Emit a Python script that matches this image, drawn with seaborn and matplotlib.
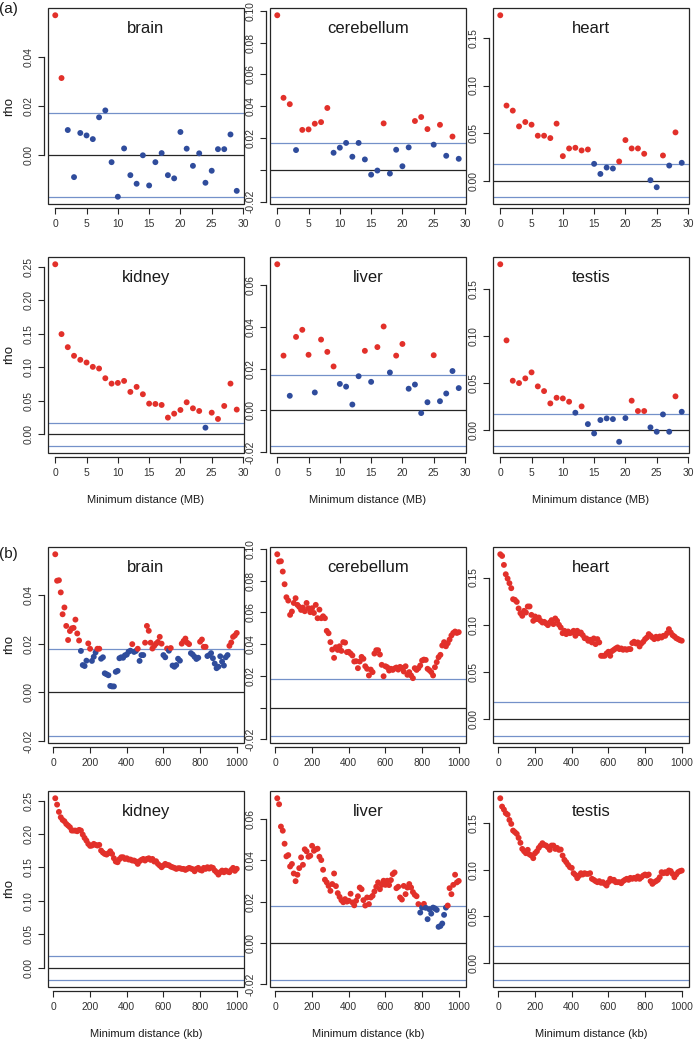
import matplotlib

matplotlib.use("Agg")

import matplotlib.pyplot as plt
import numpy as np
import pandas as pd
import seaborn as sns
from matplotlib.patches import Rectangle
from matplotlib.ticker import FuncFormatter, MultipleLocator


sns.set_theme(style="white")
plt.rcParams["font.family"] = ["Liberation Sans", "DejaVu Sans"]

TISSUES = ["brain", "cerebellum", "heart", "kidney", "liver", "testis"]

# (a) minimum distance between gene pairs, in MB
DIST_MB = list(range(30))
RHO_MB_BRAIN = [0.0570, 0.0314, 0.0102, -0.0090, 0.0090, 0.0080, 0.0065, 0.0154, 0.0182, -0.0029,
                -0.0170, 0.0027, -0.0082, -0.0117, -0.0001, -0.0124, -0.0029, 0.0008, -0.0082, -0.0095,
                0.0094, 0.0026, -0.0044, 0.0007, -0.0113, -0.0064, 0.0024, 0.0024, 0.0084, -0.0146]
RHO_MB_CEREBELLUM = [0.0973, 0.0453, 0.0413, 0.0124, 0.0251, 0.0254, 0.0290, 0.0300, 0.0389, 0.0107,
                     0.0139, 0.0169, 0.0082, 0.0169, 0.0065, -0.0031, -0.0005, 0.0292, -0.0024, 0.0126,
                     0.0022, 0.0141, 0.0307, 0.0332, 0.0256, 0.0158, 0.0283, 0.0088, 0.0209, 0.0069]
RHO_MB_HEART = [0.1739, 0.0789, 0.0736, 0.0570, 0.0616, 0.0588, 0.0472, 0.0472, 0.0447, 0.0599,
                0.0257, 0.0338, 0.0345, 0.0317, 0.0327, 0.0176, 0.0070, 0.0137, 0.0127, 0.0201,
                0.0426, 0.0338, 0.0338, 0.0282, 0.0004, -0.0070, 0.0264, 0.0158, 0.0507, 0.0187]
RHO_MB_KIDNEY = [0.2540, 0.1497, 0.1302, 0.1173, 0.1113, 0.1073, 0.1008, 0.0983, 0.0838, 0.0758,
                 0.0768, 0.0798, 0.0634, 0.0709, 0.0599, 0.0459, 0.0454, 0.0439, 0.0250, 0.0309,
                 0.0364, 0.0479, 0.0389, 0.0349, 0.0100, 0.0324, 0.0230, 0.0424, 0.0758, 0.0370]
RHO_MB_LIVER = [0.0702, 0.0263, 0.0070, 0.0353, 0.0387, 0.0267, 0.0086, 0.0340, 0.0281, 0.0211,
                0.0127, 0.0114, 0.0028, 0.0164, 0.0286, 0.0137, 0.0304, 0.0403, 0.0182, 0.0263,
                0.0319, 0.0104, 0.0124, -0.0013, 0.0039, 0.0265, 0.0044, 0.0081, 0.0189, 0.0107]
RHO_MB_TESTIS = [0.1759, 0.0950, 0.0521, 0.0496, 0.0546, 0.0610, 0.0461, 0.0411, 0.0280, 0.0340,
                 0.0333, 0.0298, 0.0181, 0.0248, 0.0060, -0.0039, 0.0103, 0.0121, 0.0113, -0.0128,
                 0.0124, 0.0309, 0.0199, 0.0199, 0.0025, -0.0021, 0.0163, -0.0021, 0.0355, 0.0191]

# (b) minimum distance between gene pairs, in kb
DIST_KB = list(range(10, 1001, 10))
RHO_KB_BRAIN = [0.0569, 0.0460, 0.0462, 0.0412, 0.0322, 0.0350, 0.0274, 0.0216, 0.0253, 0.0264,
                0.0266, 0.0300, 0.0243, 0.0214, 0.0171, 0.0113, 0.0109, 0.0131, 0.0202, 0.0180,
                0.0130, 0.0147, 0.0165, 0.0180, 0.0180, 0.0139, 0.0145, 0.0079, 0.0075, 0.0071,
                0.0027, 0.0025, 0.0025, 0.0085, 0.0089, 0.0141, 0.0145, 0.0143, 0.0153, 0.0156,
                0.0168, 0.0172, 0.0199, 0.0167, 0.0171, 0.0180, 0.0130, 0.0154, 0.0154, 0.0205,
                0.0274, 0.0254, 0.0205, 0.0181, 0.0192, 0.0201, 0.0208, 0.0229, 0.0201, 0.0154,
                0.0145, 0.0181, 0.0172, 0.0183, 0.0111, 0.0106, 0.0113, 0.0139, 0.0131, 0.0201,
                0.0212, 0.0222, 0.0205, 0.0199, 0.0162, 0.0156, 0.0147, 0.0138, 0.0143, 0.0209,
                0.0218, 0.0188, 0.0188, 0.0150, 0.0154, 0.0162, 0.0141, 0.0119, 0.0100, 0.0106,
                0.0149, 0.0127, 0.0111, 0.0145, 0.0154, 0.0192, 0.0206, 0.0229, 0.0235, 0.0245]
RHO_KB_CEREBELLUM = [0.0966, 0.0920, 0.0922, 0.0857, 0.0777, 0.0695, 0.0674, 0.0584, 0.0605, 0.0659,
                     0.0689, 0.0647, 0.0634, 0.0615, 0.0630, 0.0607, 0.0659, 0.0626, 0.0601, 0.0626,
                     0.0596, 0.0647, 0.0563, 0.0617, 0.0563, 0.0575, 0.0563, 0.0483, 0.0468, 0.0412,
                     0.0365, 0.0313, 0.0380, 0.0363, 0.0386, 0.0357, 0.0412, 0.0409, 0.0349, 0.0351,
                     0.0340, 0.0328, 0.0290, 0.0292, 0.0248, 0.0290, 0.0319, 0.0307, 0.0260, 0.0244,
                     0.0202, 0.0239, 0.0223, 0.0340, 0.0361, 0.0361, 0.0334, 0.0269, 0.0197, 0.0260,
                     0.0254, 0.0233, 0.0244, 0.0237, 0.0246, 0.0252, 0.0239, 0.0256, 0.0250, 0.0227,
                     0.0260, 0.0206, 0.0223, 0.0202, 0.0185, 0.0248, 0.0237, 0.0248, 0.0265, 0.0296,
                     0.0302, 0.0300, 0.0244, 0.0235, 0.0223, 0.0202, 0.0254, 0.0286, 0.0317, 0.0332,
                     0.0391, 0.0412, 0.0386, 0.0405, 0.0428, 0.0454, 0.0470, 0.0479, 0.0470, 0.0475]
RHO_KB_HEART = [0.1747, 0.1729, 0.1634, 0.1535, 0.1489, 0.1440, 0.1387, 0.1270, 0.1263, 0.1242,
                0.1172, 0.1122, 0.1094, 0.1147, 0.1129, 0.1193, 0.1193, 0.1104, 0.1041, 0.1087,
                0.1059, 0.1076, 0.1041, 0.1023, 0.1030, 0.1013, 0.0995, 0.1023, 0.1048, 0.1006,
                0.1066, 0.1041, 0.0999, 0.0970, 0.0910, 0.0935, 0.0900, 0.0928, 0.0910, 0.0917,
                0.0935, 0.0882, 0.0935, 0.0910, 0.0917, 0.0889, 0.0857, 0.0854, 0.0829, 0.0840,
                0.0812, 0.0854, 0.0794, 0.0847, 0.0812, 0.0670, 0.0670, 0.0670, 0.0695, 0.0713,
                0.0670, 0.0720, 0.0734, 0.0748, 0.0759, 0.0741, 0.0748, 0.0734, 0.0741, 0.0734,
                0.0741, 0.0741, 0.0805, 0.0819, 0.0801, 0.0812, 0.0769, 0.0801, 0.0819, 0.0847,
                0.0864, 0.0900, 0.0882, 0.0864, 0.0847, 0.0872, 0.0854, 0.0875, 0.0864, 0.0882,
                0.0882, 0.0910, 0.0953, 0.0917, 0.0889, 0.0875, 0.0857, 0.0847, 0.0836, 0.0830]
RHO_KB_KIDNEY = [0.2535, 0.2440, 0.2331, 0.2251, 0.2211, 0.2191, 0.2151, 0.2127, 0.2102, 0.2052,
                 0.2052, 0.2052, 0.2042, 0.2062, 0.2052, 0.1992, 0.1942, 0.1902, 0.1853, 0.1823,
                 0.1828, 0.1853, 0.1838, 0.1828, 0.1838, 0.1753, 0.1723, 0.1703, 0.1693, 0.1713,
                 0.1743, 0.1703, 0.1638, 0.1589, 0.1579, 0.1624, 0.1653, 0.1653, 0.1628, 0.1638,
                 0.1619, 0.1619, 0.1604, 0.1604, 0.1589, 0.1554, 0.1594, 0.1614, 0.1628, 0.1604,
                 0.1628, 0.1638, 0.1614, 0.1628, 0.1589, 0.1594, 0.1554, 0.1529, 0.1504, 0.1529,
                 0.1554, 0.1539, 0.1534, 0.1514, 0.1504, 0.1494, 0.1479, 0.1489, 0.1489, 0.1479,
                 0.1479, 0.1464, 0.1479, 0.1494, 0.1484, 0.1474, 0.1444, 0.1479, 0.1494, 0.1464,
                 0.1454, 0.1494, 0.1479, 0.1504, 0.1484, 0.1504, 0.1494, 0.1454, 0.1429, 0.1394,
                 0.1429, 0.1454, 0.1429, 0.1454, 0.1439, 0.1429, 0.1464, 0.1494, 0.1450, 0.1480]
RHO_KB_LIVER = [0.0700, 0.0671, 0.0563, 0.0543, 0.0480, 0.0419, 0.0425, 0.0370, 0.0382, 0.0336,
                0.0299, 0.0330, 0.0362, 0.0414, 0.0378, 0.0453, 0.0443, 0.0417, 0.0422, 0.0470,
                0.0446, 0.0453, 0.0456, 0.0417, 0.0401, 0.0354, 0.0306, 0.0293, 0.0276, 0.0252,
                0.0285, 0.0336, 0.0275, 0.0241, 0.0223, 0.0207, 0.0197, 0.0212, 0.0200, 0.0204,
                0.0238, 0.0196, 0.0182, 0.0204, 0.0226, 0.0268, 0.0260, 0.0207, 0.0181, 0.0220,
                0.0188, 0.0220, 0.0228, 0.0249, 0.0272, 0.0293, 0.0260, 0.0281, 0.0301, 0.0281,
                0.0301, 0.0280, 0.0304, 0.0333, 0.0341, 0.0265, 0.0272, 0.0220, 0.0210, 0.0276,
                0.0236, 0.0268, 0.0285, 0.0268, 0.0246, 0.0233, 0.0226, 0.0188, 0.0147, 0.0171,
                0.0189, 0.0170, 0.0115, 0.0163, 0.0142, 0.0171, 0.0167, 0.0160, 0.0078, 0.0082,
                0.0094, 0.0136, 0.0171, 0.0181, 0.0265, 0.0236, 0.0281, 0.0330, 0.0293, 0.0300]
RHO_KB_TESTIS = [0.1764, 0.1675, 0.1643, 0.1604, 0.1589, 0.1532, 0.1490, 0.1418, 0.1401, 0.1383,
                 0.1340, 0.1287, 0.1222, 0.1197, 0.1176, 0.1212, 0.1162, 0.1151, 0.1123, 0.1176,
                 0.1197, 0.1233, 0.1258, 0.1283, 0.1265, 0.1258, 0.1240, 0.1212, 0.1258, 0.1258,
                 0.1222, 0.1233, 0.1212, 0.1215, 0.1151, 0.1105, 0.1080, 0.1051, 0.1026, 0.1019,
                 0.0962, 0.0944, 0.0909, 0.0934, 0.0962, 0.0948, 0.0962, 0.0955, 0.0955, 0.0962,
                 0.0902, 0.0891, 0.0877, 0.0866, 0.0877, 0.0859, 0.0866, 0.0848, 0.0830, 0.0866,
                 0.0902, 0.0884, 0.0891, 0.0866, 0.0866, 0.0866, 0.0855, 0.0877, 0.0891, 0.0902,
                 0.0891, 0.0912, 0.0902, 0.0912, 0.0902, 0.0927, 0.0902, 0.0919, 0.0937, 0.0948,
                 0.0937, 0.0948, 0.0877, 0.0848, 0.0866, 0.0877, 0.0891, 0.0919, 0.0973, 0.0962,
                 0.0973, 0.0962, 0.0991, 0.0984, 0.0955, 0.0919, 0.0948, 0.0973, 0.0984, 0.0990]

RHO_MB = [RHO_MB_BRAIN, RHO_MB_CEREBELLUM, RHO_MB_HEART, RHO_MB_KIDNEY, RHO_MB_LIVER, RHO_MB_TESTIS]
RHO_KB = [RHO_KB_BRAIN, RHO_KB_CEREBELLUM, RHO_KB_HEART, RHO_KB_KIDNEY, RHO_KB_LIVER, RHO_KB_TESTIS]

# null band drawn as blue lines, and the cut used for colouring points
THRESHOLD_MB = 0.0170
THRESHOLD_KB = 0.0178
SIG_CUT_MB = 0.0195
SIG_CUT_KB = 0.0178
Y_STEP = [0.02, 0.02, 0.05, 0.05, 0.02, 0.05]
# tick labels R skipped because they would overlap
SKIP_YLABEL = {"cerebellum": [0.0]}

RED = "#e2302a"
BLUE = "#2f4c9c"
LINE_BLUE = "#7491c9"
DARK = "#262626"

W, H = 696, 1040
PANEL = 196
COL_LEFT = [48, 270, 493]
ROW_TOP = [8, 257, 547, 791]


def fmt_rho(v):
    if abs(v) < 1e-9:
        v = 0.0
    return f"{v:.2f}"


def draw_panel(ax, name, x, rho, thr, cut, ystep, xticks):
    df = pd.DataFrame({"dist": x, "rho": rho})
    df["group"] = np.where(df["rho"] > cut, "sig", "ns")

    ax.axhline(thr, color=LINE_BLUE, lw=0.9, zorder=1)
    ax.axhline(-thr, color=LINE_BLUE, lw=0.9, zorder=1)
    ax.axhline(0, color=DARK, lw=0.9, zorder=1)
    sns.scatterplot(data=df, x="dist", y="rho", hue="group", palette={"sig": RED, "ns": BLUE},
                    s=18, linewidth=0, legend=False, ax=ax, zorder=3)

    lo = min(min(rho), -thr)
    hi = max(max(rho), thr)
    pad = 0.04 * (hi - lo)
    ax.set_ylim(lo - pad, hi + pad)
    xpad = 0.04 * (max(x) - min(x))
    ax.set_xlim(min(x) - xpad, max(x) + xpad)

    ax.set_xticks(xticks)
    ax.yaxis.set_major_locator(MultipleLocator(ystep))
    yt = [t for t in ax.get_yticks() if lo - pad <= t <= hi + pad]
    ax.set_yticks(yt)
    skip = SKIP_YLABEL.get(name, [])
    ax.set_yticklabels(["" if any(abs(t - s) < 1e-9 for s in skip) else fmt_rho(t) for t in yt])

    for side in ("top", "right"):
        ax.spines[side].set_visible(False)
    for side in ("left", "bottom"):
        ax.spines[side].set_position(("outward", 3))
        ax.spines[side].set_color(DARK)
        ax.spines[side].set_linewidth(0.9)
    ax.spines["left"].set_bounds(yt[0], yt[-1])
    ax.spines["bottom"].set_bounds(xticks[0], xticks[-1])
    ax.add_patch(Rectangle((0, 0), 1, 1, transform=ax.transAxes, fill=False,
                           ec=DARK, lw=0.9, clip_on=False, zorder=5))

    ax.tick_params(axis="both", which="major", direction="out", length=4, width=0.8,
                   color=DARK, labelsize=7.4, labelcolor="#333333", pad=3.5,
                   left=True, bottom=True)
    for lab in ax.get_yticklabels():
        lab.set_rotation(90)
        lab.set_va("center")
    ax.set_xlabel("")
    ax.set_ylabel("")
    ax.text(0.5, 0.872, name, transform=ax.transAxes, ha="center", va="baseline",
            fontsize=12, color="#1a1a1a")


fig = plt.figure(figsize=(W / 100, H / 100), dpi=100)

for rows, dist, series, thr, cut, xticks, xlab in [
    ((0, 1), DIST_MB, RHO_MB, THRESHOLD_MB, SIG_CUT_MB, [0, 5, 10, 15, 20, 25, 30], "Minimum distance (MB)"),
    ((2, 3), DIST_KB, RHO_KB, THRESHOLD_KB, SIG_CUT_KB, [0, 200, 400, 600, 800, 1000], "Minimum distance (kb)"),
]:
    for i, name in enumerate(TISSUES):
        r, c = rows[i // 3], i % 3
        top = ROW_TOP[r]
        ax = fig.add_axes([COL_LEFT[c] / W, 1 - (top + PANEL) / H, PANEL / W, PANEL / H])
        ax.set_facecolor("white")
        draw_panel(ax, name, dist, series[i], thr, cut, Y_STEP[i], xticks)
        if c == 0:
            fig.text(9 / W, 1 - (top + PANEL / 2) / H, "rho", rotation=90,
                     ha="center", va="center", fontsize=9.5, color="#1a1a1a")
        if i >= 3:
            fig.text((COL_LEFT[c] + PANEL / 2) / W, 1 - (top + PANEL + 47) / H, xlab,
                     ha="center", va="center", fontsize=8, color="#1a1a1a")

fig.text(8 / W, 1 - 9 / H, "(a)", ha="center", va="center", fontsize=11, color="#1a1a1a")
fig.text(8 / W, 1 - 554 / H, "(b)", ha="center", va="center", fontsize=11, color="#1a1a1a")

fig.savefig("out.png", dpi=100, facecolor="white")
plt.close(fig)
